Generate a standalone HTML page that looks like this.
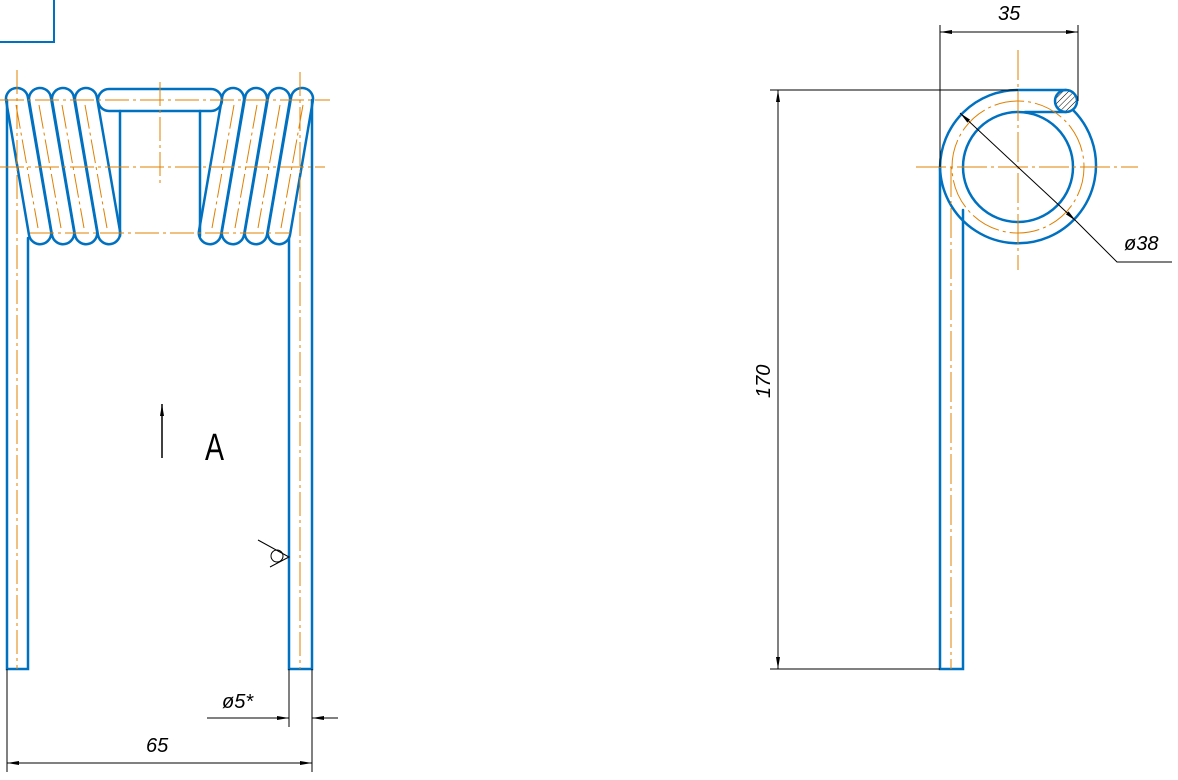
<!DOCTYPE html>
<html><head><style>body{margin:0;background:#fff}svg{display:block}text{font-family:"Liberation Sans",sans-serif;font-style:italic;fill:#000}</style></head><body>
<svg width="1178" height="780" viewBox="0 0 1178 780" xmlns="http://www.w3.org/2000/svg">
<defs>
<pattern id="h" width="4" height="4" patternUnits="userSpaceOnUse" patternTransform="rotate(45)"><line x1="0" y1="0" x2="0" y2="4" stroke="#000" stroke-width="1"/></pattern>
<marker id="a" markerWidth="12" markerHeight="6" refX="12" refY="3" orient="auto" markerUnits="userSpaceOnUse"><path d="M0,1 L12,3 L0,5z" fill="#000"/></marker>
</defs>
<g fill="none" stroke="#0070c0" stroke-width="2.5" stroke-linecap="round">
<path d="M0,42 H54 V0" stroke-width="2"/>
<!-- left coils -->
<g id="lc">
<path d="M6,100 A11,11 0 0 1 28,98 L51,231 A11,11 0 0 1 29,235 Z"/>
<path d="M29,100 A11,11 0 0 1 51,98 L74,231 A11,11 0 0 1 52,235 Z"/>
<path d="M52,100 A11,11 0 0 1 74,98 L97,231 A11,11 0 0 1 75,235 Z"/>
<path d="M75,100 A11,11 0 0 1 97,98 L120,231 A11,11 0 0 1 98,235 Z"/>
</g>
<use href="#lc" transform="translate(319,0) scale(-1,1)"/>
<rect x="98" y="89" width="124" height="22" rx="11"/>
<path d="M120,111 V236 M200,111 V236"/>
<path d="M7,100 V669 H28 V238 M289,238 V669 H312 V100"/>
<!-- right view -->
<circle cx="1018" cy="167" r="55"/>
<path d="M940,167 A78,78 0 0 1 1018,90 H1066 M1073,110 A78,78 0 1 1 940,167 M1025,112 H1066"/>
<path d="M940,167 V669 H963 V210"/>
<circle cx="1066" cy="101" r="11" fill="url(#h)"/>
</g>
<g fill="none" stroke="#e08000" stroke-width="1">
<path d="M0,100 H330 M0,167 H325 M30,233 H290 M160,82 V187 M17,70 V669 M300,72 V669" stroke-dasharray="24,4,3,4"/>
<path d="M916,167 H1138 M1018,50 V270 M951,167 V669" stroke-dasharray="30,4,3,4"/>
<circle cx="1018" cy="167" r="66" stroke-dasharray="30,4,3,4"/>
<path d="M16,105 L38,228 M39,105 L61,228 M62,105 L84,228 M85,105 L107,228 M303,105 L281,228 M280,105 L258,228 M257,105 L235,228 M234,105 L212,228" stroke-dasharray="24,4,3,4"/>
</g>
<g fill="none" stroke="#000" stroke-width="1">
<path d="M940,25 V167 M1078,25 V101"/>
<path d="M1009,32 H940" marker-end="url(#a)"/><path d="M1009,32 H1078" marker-end="url(#a)"/>
<path d="M770,90 H1018 M770,669 H940"/>
<path d="M778,380 V90" marker-end="url(#a)"/><path d="M778,380 V669" marker-end="url(#a)"/>
<path d="M1020,169 L960,113" marker-end="url(#a)"/><path d="M1020,169 L1076,221" marker-end="url(#a)"/>
<path d="M1076,221 L1117,262 H1172"/>
<path d="M162,458 V404" marker-end="url(#a)" stroke-width="1.5"/>
<path d="M7,669 V772 M312,669 V772 M289,669 V727"/>
<path d="M160,763 H7" marker-end="url(#a)"/><path d="M160,763 H312" marker-end="url(#a)"/>
<path d="M207,718 H289" marker-end="url(#a)"/><path d="M338,718 H312" marker-end="url(#a)"/>
<path d="M258,540 L289,557 L270,567"/>
<circle cx="277" cy="556" r="6"/>
</g>
<text x="998" y="20" font-size="20">35</text>
<text x="1124" y="250" font-size="20">ø38</text>
<text transform="translate(770,398) rotate(-90)" font-size="20">170</text>
<text x="146" y="752" font-size="20">65</text>
<text x="222" y="708" font-size="20">ø5*</text>
<text x="205" y="460" font-size="38" style="font-style:normal" transform="translate(205,0) scale(0.75,1) translate(-205,0)">A</text>
</svg>
</body></html>
